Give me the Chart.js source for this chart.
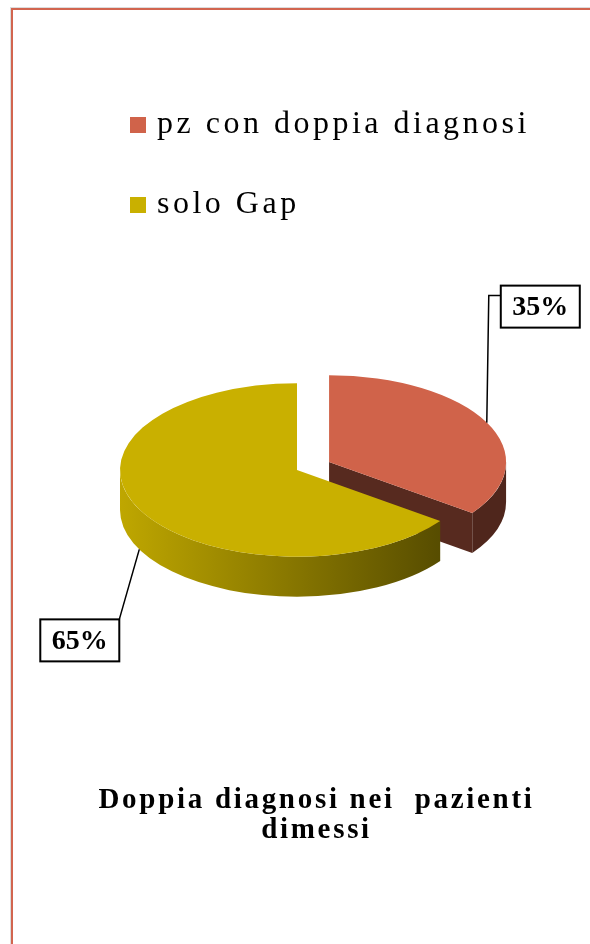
<!DOCTYPE html>
<html lang="it">
<head>
<meta charset="utf-8">
<title>Doppia diagnosi nei pazienti dimessi</title>
<script src="https://cdn.jsdelivr.net/npm/chart.js@4.4.0/dist/chart.umd.min.js"></script>
<style>
    html, body { margin: 0; padding: 0; background: #fff; }
    #pagina { position: relative; width: 590px; height: 944px; overflow: hidden; }
    #cornice {
        position: absolute; left: 11px; top: 8px; right: -10px; bottom: -10px;
        border-left: 2px solid #D2654F; border-top: 2px solid #D2654F;
        box-shadow: -1px -1px 0 #dcdcdc;
    }
    #grafico { position: absolute; left: 0; top: 0; }
    #legenda {
        position: absolute; left: 130px; top: 104px;
        font: 32px "Liberation Serif", serif; letter-spacing: 3.5px; color: #000;
    }
    .voce { position: relative; height: 36px; line-height: 36px; margin-bottom: 44px; padding-left: 27px; white-space: nowrap; }
    .voce .quadrato { position: absolute; left: 0; top: 13px; width: 16px; height: 16px; }
    #titolo {
        position: absolute; left: 0; width: 633px; top: 783px;
        text-align: center; white-space: pre; color: #000;
        font: bold 29px "Liberation Serif", serif; line-height: 30px; letter-spacing: 2.7px;
    }
</style>
</head>
<body>
<div id="pagina">
    <div id="cornice"></div>
    <canvas id="grafico" width="590" height="944"></canvas>
    <div id="legenda"></div>
    <div id="titolo"></div>
</div>
<script>
const categorie = ['pz con doppia diagnosi', 'solo Gap'];
const percentuali = [35, 65];
const coloriFette = ['#D0634A', '#C9B000'];
const titolo = ['Doppia diagnosi nei  pazienti', 'dimessi'];

function scurisci(hex, f) {
    const n = parseInt(hex.slice(1), 16);
    const r = Math.round(((n >> 16) & 255) * f);
    const g = Math.round(((n >> 8) & 255) * f);
    const b = Math.round((n & 255) * f);
    return `rgb(${r},${g},${b})`;
}

// geometria delle fette: centro spostato (esplosione) e schiacciato in verticale
function geometriaFette(chart, opts) {
    const meta = chart.getDatasetMeta(0);
    const k = opts.inclinazione;
    return meta.data.map((arc, i) => {
        const p = arc.getProps(['x', 'y', 'startAngle', 'endAngle', 'outerRadius'], true);
        const mid = (p.startAngle + p.endAngle) / 2;
        const ex = opts.esplosione[i] || 0;
        const dx = Math.cos(mid) * ex;
        const dy = Math.sin(mid) * ex;
        return {
            arc, i, mid,
            a1: p.startAngle, a2: p.endAngle, r: p.outerRadius,
            ox: p.x, oy: p.y, dx, dy,
            cx: p.x + dx, cy: p.y + k * dy
        };
    });
}

const torta3d = {
    id: 'torta3d',
    beforeDatasetsDraw(chart, args, opts) {
        const ctx = chart.ctx;
        const k = opts.inclinazione;
        const h = opts.spessore;
        const fette = geometriaFette(chart, opts).sort((a, b) => Math.sin(a.mid) - Math.sin(b.mid));

        fette.forEach(f => {
            const colore = chart.data.datasets[0].backgroundColor[f.i];
            const ry = f.r * k;

            // pareti radiali visibili
            ctx.fillStyle = scurisci(colore, 0.42);
            [[f.a1, Math.cos(f.a1) < -0.001], [f.a2, Math.cos(f.a2) > 0.001]].forEach(([a, visibile]) => {
                if (!visibile) return;
                const px = f.cx + f.r * Math.cos(a);
                const py = f.cy + ry * Math.sin(a);
                ctx.beginPath();
                ctx.moveTo(f.cx, f.cy);
                ctx.lineTo(px, py);
                ctx.lineTo(px, py + h);
                ctx.lineTo(f.cx, f.cy + h);
                ctx.closePath();
                ctx.fill();
            });

            // bordo esterno sul davanti (angoli fra 0 e PI)
            const lo = Math.max(f.a1, 0);
            const hi = Math.min(f.a2, Math.PI);
            if (hi > lo) {
                const grad = ctx.createLinearGradient(f.ox - f.r, 0, f.ox + f.r, 0);
                grad.addColorStop(0, scurisci(colore, 0.95));
                grad.addColorStop(1, scurisci(colore, 0.38));
                ctx.fillStyle = grad;
                ctx.beginPath();
                ctx.ellipse(f.cx, f.cy, f.r, ry, 0, lo, hi, false);
                ctx.ellipse(f.cx, f.cy + h, f.r, ry, 0, hi, lo, true);
                ctx.closePath();
                ctx.fill();
            }

            // faccia superiore disegnata dall'arco di Chart.js
            ctx.save();
            ctx.translate(0, f.oy * (1 - k));
            ctx.scale(1, k);
            ctx.translate(f.dx, f.dy);
            f.arc.draw(ctx);
            ctx.restore();
        });
        return false;
    },
    afterDraw(chart, args, opts) {
        const ctx = chart.ctx;
        const k = opts.inclinazione;
        const valori = chart.data.datasets[0].data;
        geometriaFette(chart, opts).forEach(f => {
            const c = opts.etichette[f.i];
            const ax = f.cx + f.r * Math.cos(f.mid);
            const ay = f.cy + f.r * k * Math.sin(f.mid) + (c.base ? opts.spessore : 0);

            ctx.save();
            ctx.strokeStyle = '#000';
            ctx.lineWidth = 1.5;
            ctx.beginPath();
            c.linea.forEach(([x, y], j) => j ? ctx.lineTo(ax + x, ay + y) : ctx.moveTo(ax + x, ay + y));
            ctx.stroke();

            const bx = ax + c.box[0];
            const by = ay + c.box[1];
            ctx.fillStyle = '#fff';
            ctx.fillRect(bx, by, opts.larghezzaBox, opts.altezzaBox);
            ctx.lineWidth = 2;
            ctx.strokeRect(bx, by, opts.larghezzaBox, opts.altezzaBox);

            ctx.fillStyle = '#000';
            ctx.font = 'bold 28px "Liberation Serif", serif';
            ctx.textAlign = 'center';
            ctx.textBaseline = 'middle';
            ctx.fillText(valori[f.i] + '%', bx + opts.larghezzaBox / 2, by + opts.altezzaBox / 2 + 1);
            ctx.restore();
        });
    }
};

new Chart(document.getElementById('grafico').getContext('2d'), {
    type: 'pie',
    data: {
        labels: categorie,
        datasets: [{
            data: percentuali,
            backgroundColor: coloriFette,
            borderWidth: 0,
            radius: 177
        }]
    },
    options: {
        responsive: false,
        animation: false,
        events: [],
        layout: { padding: { left: 4, bottom: 4 } },
        plugins: {
            legend: { display: false },
            tooltip: { enabled: false },
            title: { display: false },
            torta3d: {
                inclinazione: 0.49,
                spessore: 40,
                esplosione: [36, 0],
                larghezzaBox: 79,
                altezzaBox: 42,
                etichette: [
                    { base: false, linea: [[0, 0], [2, -127], [14, -127]], box: [14, -137] },
                    { base: true, linea: [[0, 0], [-20, 70]], box: [-99, 70] }
                ]
            }
        }
    },
    plugins: [torta3d]
});

// legenda e titolo come testo HTML
document.getElementById('legenda').innerHTML = categorie.map((nome, i) =>
    `<div class="voce"><span class="quadrato" style="background:${coloriFette[i]}"></span>${nome}</div>`
).join('');
document.getElementById('titolo').textContent = titolo.join('\n');
</script>
</body>
</html>
